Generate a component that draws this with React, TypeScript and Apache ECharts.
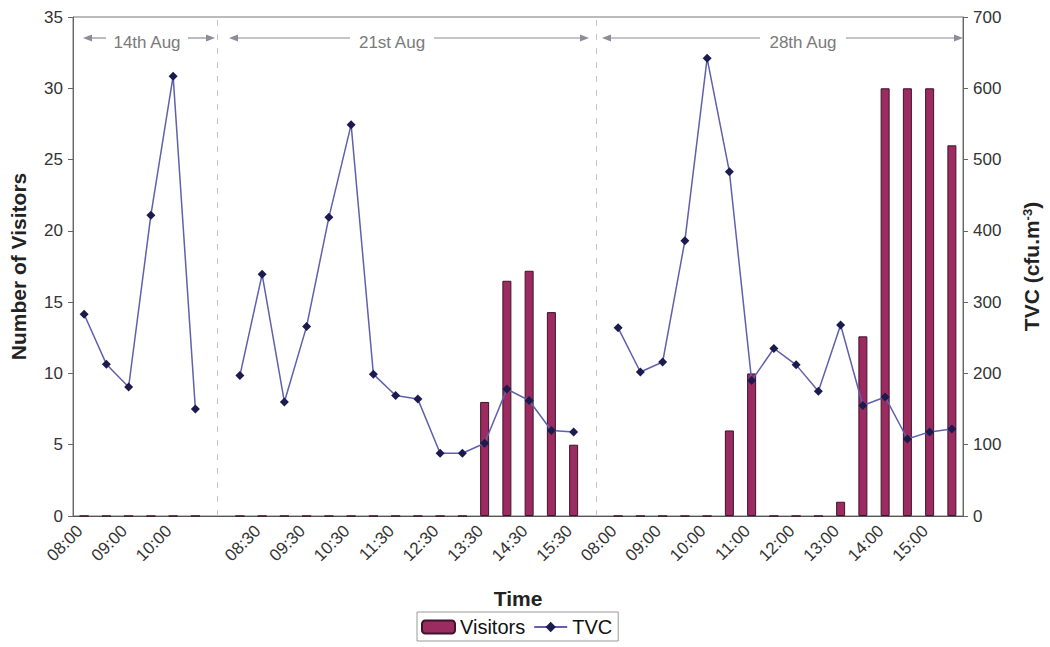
import React, { useEffect, useRef } from "react";
import * as echarts from "echarts";

// ---- Data ----
const days = ["14th Aug", "21st Aug", "28th Aug"];
const times14 = ["08:00", "08:30", "09:00", "09:30", "10:00", "10:30"];
const times21 = ["08:00", "08:30", "09:00", "09:30", "10:00", "10:30", "11:00", "11:30", "12:00", "12:30", "13:00", "13:30", "14:00", "14:30", "15:00", "15:30"];
const times28 = ["08:00", "08:30", "09:00", "09:30", "10:00", "10:30", "11:00", "11:30", "12:00", "12:30", "13:00", "13:30", "14:00", "14:30", "15:00", "15:30"];

const visitors14 = [0, 0, 0, 0, 0, 0];
const visitors21 = [0, 0, 0, 0, 0, 0, 0, 0, 0, 0, 0, 8, 16.5, 17.2, 14.3, 5];
const visitors28 = [0, 0, 0, 0, 0, 6, 10, 0, 0, 0, 1, 12.6, 30, 30, 30, 26];

const tvc14 = [283, 213, 181, 422, 617, 150];
const tvc21 = [197, 339, 160, 266, 419, 549, 199, 169, 164, 88, 88, 102, 178, 162, 120, 118];
const tvc28 = [264, 202, 216, 386, 642, 483, 190, 235, 212, 175, 268, 155, 167, 108, 118, 122];

const leftTicks = { min: 0, max: 35, interval: 5 };
const rightTicks = { min: 0, max: 700, interval: 100 };

// gap categories separate the days
const categories = [...times14, "", ...times21, "", ...times28];
const visitors = [...visitors14, null, ...visitors21, null, ...visitors28];
const tvc = [...tvc14, null, ...tvc21, null, ...tvc28];
const gapIndices = [times14.length, times14.length + 1 + times21.length];

// annotation layout (pixels)
const annY = 38;
const annotations = [
  { label: days[0], x1: 83, x2: 215, tx: 147, tw: 70 },
  { label: days[1], x1: 229, x2: 589, tx: 392, tw: 72 },
  { label: days[2], x1: 602, x2: 963, tx: 803, tw: 74 },
];

function buildAnnotationGraphics() {
  const els: any[] = [];
  const col = "#8c8c9c";
  annotations.forEach((a) => {
    const leftEnd = a.tx - a.tw / 2 - 6;
    const rightStart = a.tx + a.tw / 2 + 6;
    els.push({ type: "line", shape: { x1: a.x1 + 8, y1: annY, x2: leftEnd, y2: annY }, style: { stroke: col, lineWidth: 1.2 }, silent: true });
    els.push({ type: "polygon", shape: { points: [[a.x1, annY], [a.x1 + 9, annY - 3.5], [a.x1 + 9, annY + 3.5]] }, style: { fill: col }, silent: true });
    els.push({ type: "line", shape: { x1: rightStart, y1: annY, x2: a.x2 - 8, y2: annY }, style: { stroke: col, lineWidth: 1.2 }, silent: true });
    els.push({ type: "polygon", shape: { points: [[a.x2, annY], [a.x2 - 9, annY - 3.5], [a.x2 - 9, annY + 3.5]] }, style: { fill: col }, silent: true });
    els.push({
      type: "text",
      x: a.tx,
      y: annY + 4,
      style: { text: a.label, fontSize: 17, fill: "#7a7a7a", align: "center", verticalAlign: "middle", fontFamily: "Liberation Sans, Arial, sans-serif" },
      silent: true,
    });
  });
  return els;
}

export default function App() {
  const ref = useRef<HTMLDivElement>(null);
  useEffect(() => {
    if (!ref.current) return;
    const chart = echarts.init(ref.current, undefined, { renderer: "svg" });
    const font = "Liberation Sans, Arial, sans-serif";
    const option: any = {
      animation: false,
      textStyle: { fontFamily: font },
      grid: { left: 73, right: 85, top: 17, bottom: 131, show: true, borderColor: "#777", borderWidth: 1, backgroundColor: "transparent" },
      legend: {
        data: ["Visitors", "TVC"],
        left: 417,
        top: 612,
        itemWidth: 33,
        itemHeight: 13,
        itemGap: 8,
        padding: [5, 6, 4, 4],
        borderColor: "#999",
        borderWidth: 1,
        textStyle: { fontSize: 20, color: "#111", fontFamily: font },
      },
      xAxis: {
        type: "category",
        data: categories,
        boundaryGap: true,
        name: "Time",
        nameLocation: "middle",
        nameGap: 72,
        nameTextStyle: { fontWeight: "bold", fontSize: 21, color: "#222" },
        axisLine: { lineStyle: { color: "#555", width: 1 } },
        axisTick: { interval: 0, length: 5, lineStyle: { color: "#555" } },
        axisLabel: { interval: 1, rotate: 45, fontSize: 17, color: "#333", margin: 8, padding: [0, 6, 0, 0] },
        splitLine: { show: false },
      },
      yAxis: [
        {
          type: "value",
          ...leftTicks,
          position: "left",
          name: "Number of Visitors",
          nameLocation: "middle",
          nameRotate: 90,
          nameGap: 44,
          nameTextStyle: { fontWeight: "bold", fontSize: 21, color: "#222" },
          axisLine: { show: true, lineStyle: { color: "#666" } },
          axisTick: { show: true, length: 5, lineStyle: { color: "#666" } },
          axisLabel: { fontSize: 17, color: "#333", margin: 10 },
          splitLine: { show: false },
        },
        {
          type: "value",
          ...rightTicks,
          position: "right",
          name: "{a|TVC (cfu.m}{s|-3}{a|)}",
          nameLocation: "middle",
          nameRotate: 90,
          nameGap: 58,
          nameTextStyle: {
            rich: {
              a: { fontWeight: "bold", fontSize: 21, color: "#222", fontFamily: font },
              s: { fontWeight: "bold", fontSize: 13, color: "#222", verticalAlign: "top", fontFamily: font },
            },
          },
          axisLine: { show: true, lineStyle: { color: "#666" } },
          axisTick: { show: true, length: 5, lineStyle: { color: "#666" } },
          axisLabel: { fontSize: 17, color: "#333", margin: 10 },
          splitLine: { show: false },
        },
      ],
      series: [
        {
          name: "Visitors",
          type: "bar",
          yAxisIndex: 0,
          data: visitors,
          barWidth: 9,
          itemStyle: { color: "#9c2b62", borderColor: "#3d1428", borderWidth: 1 },
          markLine: {
            silent: true,
            symbol: "none",
            label: { show: false },
            lineStyle: { type: [6, 8], color: "#c4c4c4", width: 1 },
            data: gapIndices.map((i) => ({ xAxis: i })),
          },
        },
        {
          name: "TVC",
          type: "line",
          yAxisIndex: 1,
          data: tvc,
          connectNulls: false,
          symbol: "diamond",
          symbolSize: 9,
          itemStyle: { color: "#1b1b4f" },
          lineStyle: { color: "#6060ac", width: 1.5 },
        },
      ],
      graphic: buildAnnotationGraphics(),
    };
    chart.setOption(option);
    return () => chart.dispose();
  }, []);
  return <div ref={ref} style={{ position: "fixed", left: 0, top: 0, width: 1050, height: 647, background: "#fff" }} />;
}
